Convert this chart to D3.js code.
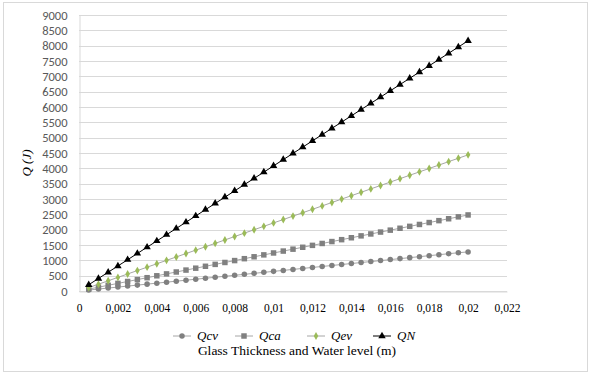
<!DOCTYPE html>
<html>
<head>
<meta charset="utf-8">
<script src="https://cdn.jsdelivr.net/npm/d3@7"></script>
<style>
  body { margin: 0; background: #fff; }
</style>
</head>
<body>
<script>
// thickness values (m)
const xVals = [0.0005, 0.001, 0.0015, 0.002, 0.0025, 0.003, 0.0035, 0.004, 0.0045, 0.005,
  0.0055, 0.006, 0.0065, 0.007, 0.0075, 0.008, 0.0085, 0.009, 0.0095, 0.01,
  0.0105, 0.011, 0.0115, 0.012, 0.0125, 0.013, 0.0135, 0.014, 0.0145, 0.015,
  0.0155, 0.016, 0.0165, 0.017, 0.0175, 0.018, 0.0185, 0.019, 0.0195, 0.02];

const qcv = [32, 64, 96, 128, 160, 192, 224, 256, 288, 320, 352, 384, 416, 448, 480, 512, 544, 576, 608, 640,
  672, 704, 736, 768, 800, 832, 864, 896, 928, 960, 992, 1024, 1056, 1088, 1120, 1152, 1184, 1216, 1248, 1275];
const qca = [62, 124, 186, 248, 310, 372, 434, 496, 558, 620, 682, 744, 806, 868, 930, 992, 1054, 1116, 1178, 1240,
  1302, 1364, 1426, 1488, 1550, 1612, 1674, 1736, 1798, 1860, 1922, 1984, 2046, 2108, 2170, 2232, 2294, 2356, 2418, 2480];
const qev = [111, 222, 333, 444, 555, 666, 777, 888, 999, 1110, 1221, 1332, 1443, 1554, 1665, 1776, 1887, 1998, 2109, 2220,
  2331, 2442, 2553, 2664, 2775, 2886, 2997, 3108, 3219, 3330, 3441, 3552, 3663, 3774, 3885, 3996, 4107, 4218, 4329, 4440];
const qn = [204, 408, 612, 816, 1020, 1224, 1428, 1632, 1836, 2040, 2244, 2448, 2652, 2856, 3060, 3264, 3468, 3672, 3876, 4080,
  4284, 4488, 4692, 4896, 5100, 5304, 5508, 5712, 5916, 6120, 6324, 6528, 6732, 6936, 7140, 7344, 7548, 7752, 7956, 8160];

const xTicks = [0, 0.002, 0.004, 0.006, 0.008, 0.01, 0.012, 0.014, 0.016, 0.018, 0.02, 0.022];
const yTicks = [0, 500, 1000, 1500, 2000, 2500, 3000, 3500, 4000, 4500, 5000, 5500, 6000, 6500, 7000, 7500, 8000, 8500, 9000];

const seriesNames = ["Qcv", "Qca", "Qev", "QN"];

const W = 590, H = 375;
const pLeft = 79, pRight = 507, pTop = 15, pBottom = 291;

const svg = d3.select("body").append("svg")
    .attr("width", W)
    .attr("height", H);

// outer frame
svg.append("rect")
    .attr("x", 3.5).attr("y", 2.5)
    .attr("width", 584).attr("height", 369)
    .attr("fill", "white")
    .attr("stroke", "#d9d9d9");

let x = d3.scaleLinear().domain([0, 0.022]).range([pLeft, pRight]);
let y = d3.scaleLinear().domain([0, 9000]).range([pBottom, pTop]);

// gridlines
svg.append("g")
    .selectAll("line")
    .data(yTicks)
    .enter()
    .append("line")
    .attr("x1", pLeft).attr("x2", pRight)
    .attr("y1", d => Math.round(y(d)) + 0.5)
    .attr("y2", d => Math.round(y(d)) + 0.5)
    .attr("stroke", "#d9d9d9");

// y axis
let yAxis = d3.axisLeft(y).tickValues(yTicks).tickSize(0).tickPadding(12).tickFormat(d3.format("d"));
let gy = svg.append("g")
    .attr("transform", `translate(${pLeft + 0.5}, 0)`)
    .call(yAxis);
gy.select(".domain").attr("stroke", "#d9d9d9");
gy.selectAll("text")
    .attr("fill", "#595959")
    .style("font-family", "Carlito, 'Open Sans', 'Liberation Sans', sans-serif")
    .style("font-size", "12.5px");

// x axis
let fmt = d => d === 0 ? "0" : String(+d.toFixed(3)).replace(".", ",");
let xAxis = d3.axisBottom(x).tickValues(xTicks).tickSize(0).tickPadding(12).tickFormat(fmt);
let gx = svg.append("g")
    .attr("transform", `translate(0, ${pBottom + 0.5})`)
    .call(xAxis);
gx.select(".domain").attr("stroke", "#d9d9d9");
gx.selectAll("text")
    .attr("fill", "#000")
    .style("font-family", "'Liberation Serif', 'Times New Roman', serif")
    .style("font-size", "11.5px");

// y title
svg.append("text")
    .attr("transform", `translate(31, 163) rotate(-90)`)
    .attr("text-anchor", "middle")
    .style("font-family", "'Liberation Serif', serif")
    .style("font-style", "italic")
    .style("font-size", "13px")
    .text("Q (J)");

// x title
svg.append("text")
    .attr("x", 297).attr("y", 355)
    .attr("text-anchor", "middle")
    .style("font-family", "'Liberation Serif', serif")
    .style("font-size", "13.5px")
    .text("Glass Thickness and Water level (m)");

const styles = [
    { data: qcv, line: "#a6a6a6", fill: "#808080", shape: d3.symbolCircle, size: 24 },
    { data: qca, line: "#a6a6a6", fill: "#808080", shape: d3.symbolSquare, size: 30 },
    { data: qev, line: "#a6a6a6", fill: "#9bbb59", shape: d3.symbolDiamond, size: 18 },
    { data: qn, line: "#000000", fill: "#000000", shape: d3.symbolTriangle, size: 24 }
];

let line = d3.line()
    .x((d, i) => x(xVals[i]))
    .y(d => y(d));

for (let s of styles) {
    let g = svg.append("g");
    g.append("path")
        .attr("d", line(s.data))
        .attr("fill", "none")
        .attr("stroke", s.line)
        .attr("stroke-width", 1);
    g.selectAll("path.m")
        .data(s.data)
        .enter()
        .append("path")
        .attr("class", "m")
        .attr("d", d3.symbol().type(s.shape).size(s.size))
        .attr("transform", (d, i) => `translate(${x(xVals[i])}, ${y(d)})`)
        .attr("fill", s.fill);
}

// legend
const legendX = [173, 235, 307, 373];
const legendY = 336;
let lg = svg.append("g");
seriesNames.forEach((name, i) => {
    let s = styles[i];
    lg.append("line")
        .attr("x1", legendX[i]).attr("x2", legendX[i] + 18)
        .attr("y1", legendY).attr("y2", legendY)
        .attr("stroke", s.line);
    lg.append("path")
        .attr("d", d3.symbol().type(s.shape).size(s.size)())
        .attr("transform", `translate(${legendX[i] + 9}, ${legendY})`)
        .attr("fill", s.fill);
    lg.append("text")
        .attr("x", legendX[i] + 24)
        .attr("y", legendY + 4)
        .style("font-family", "'Liberation Serif', serif")
        .style("font-style", "italic")
        .style("font-size", "13px")
        .text(name);
});
</script>
</body>
</html>
